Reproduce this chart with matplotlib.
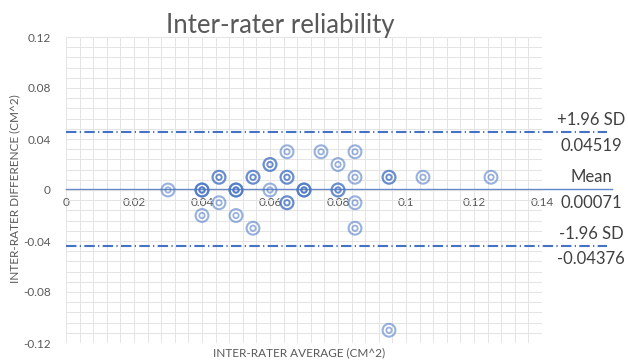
import numpy as np
import matplotlib.pyplot as plt
from matplotlib.ticker import MultipleLocator

# Bland-Altman data (repeated pairs = overlapping markers)
avg = [0.03, 0.04, 0.04, 0.04, 0.04,
       0.045, 0.045, 0.045,
       0.05, 0.05, 0.05, 0.05,
       0.055, 0.055, 0.055,
       0.06, 0.06, 0.06,
       0.065, 0.065, 0.065, 0.065, 0.065,
       0.07, 0.07, 0.07,
       0.075,
       0.08, 0.08, 0.08,
       0.085, 0.085, 0.085, 0.085,
       0.095, 0.095, 0.095,
       0.105, 0.125]
diff = [0.0, 0.0, 0.0, 0.0, -0.02,
        0.01, 0.01, -0.01,
        0.0, 0.0, 0.0, -0.02,
        0.01, 0.01, -0.03,
        0.02, 0.02, 0.0,
        0.03, 0.01, 0.01, -0.01, -0.01,
        0.0, 0.0, 0.0,
        0.03,
        0.02, 0.0, 0.0,
        0.03, 0.01, -0.01, -0.03,
        0.01, 0.01, -0.11,
        0.01, 0.01]

mean_diff = 0.00071
upper_loa = 0.04519
lower_loa = -0.04376

blue = '#4472C4'
grey = '#595959'

plt.rcParams['font.family'] = ['Lato', 'DejaVu Sans']

fig = plt.figure(figsize=(6.28, 3.62), dpi=100)
ax = fig.add_axes([66/628, 1-343/362, 476/628, 306/362])

ax.set_xlim(0, 0.14)
ax.set_ylim(-0.12, 0.12)
ax.xaxis.set_major_locator(MultipleLocator(0.02))
ax.xaxis.set_minor_locator(MultipleLocator(0.004))
ax.yaxis.set_major_locator(MultipleLocator(0.04))
ax.yaxis.set_minor_locator(MultipleLocator(0.008))
ax.grid(True, which='both', color='#E4E4E4', lw=0.7)
ax.set_axisbelow(True)

for s in ['top', 'right', 'left']:
    ax.spines[s].set_visible(False)
ax.spines['bottom'].set_position(('data', 0))
ax.spines['bottom'].set_color('#D9D9D9')
ax.tick_params(which='both', length=0, colors=grey, labelsize=8.5)
ax.tick_params(axis='y', pad=11)
ax.tick_params(axis='x', pad=5)

ax.xaxis.set_major_formatter(plt.FuncFormatter(lambda v, p: f'{v:g}'))
ax.yaxis.set_major_formatter(plt.FuncFormatter(lambda v, p: f'{v:g}'))

# limits of agreement and mean
ax.axhline(upper_loa, xmin=0, xmax=1.137, color=blue, lw=1.5,
           dashes=[5, 1.6, 0.6, 1.6], clip_on=False)
ax.axhline(lower_loa, xmin=0, xmax=1.137, color=blue, lw=1.5,
           dashes=[5, 1.6, 0.6, 1.6], clip_on=False)
ax.axhline(mean_diff, xmin=0, xmax=1.147, color=blue, lw=1.0, alpha=0.85,
           clip_on=False)

# double-ring markers
ax.scatter(avg, diff, s=85, facecolors='none', edgecolors=blue,
           linewidths=1.5, alpha=0.55, zorder=3, clip_on=False)
ax.scatter(avg, diff, s=15, facecolors='none', edgecolors=blue,
           linewidths=1.3, alpha=0.55, zorder=3, clip_on=False)

lab_x = 1.103
for yv, top, bot in [(upper_loa, '+1.96 SD', f'{upper_loa:.5f}'),
                     (mean_diff, 'Mean', f'{mean_diff:.5f}'),
                     (lower_loa, '-1.96 SD', f'{lower_loa:.5f}')]:
    ax.annotate(top, (lab_x, yv), xytext=(0, 3), textcoords='offset points',
                va='bottom', xycoords=ax.get_yaxis_transform(), ha='center',
                fontsize=12, color='#404040', annotation_clip=False)
    ax.annotate(bot, (lab_x, yv), xytext=(0, -4), textcoords='offset points',
                va='top', xycoords=ax.get_yaxis_transform(), ha='center',
                fontsize=12, color='#404040', annotation_clip=False)

ax.text(0.49, -0.015, 'INTER-RATER AVERAGE (CM^2)', transform=ax.transAxes,
        ha='center', va='top', fontsize=8.5, color=grey)
fig.text(15/628, 1-189/362, 'INTER-RATER DIFFERENCE (CM^2)', rotation=90,
         ha='center', va='center', fontsize=8.5, color=grey)
fig.text(280/628, 1-25/362, 'Inter-rater reliability', ha='center',
         va='center', fontsize=18.5, color=grey)

fig.savefig('out.png', dpi=100)
